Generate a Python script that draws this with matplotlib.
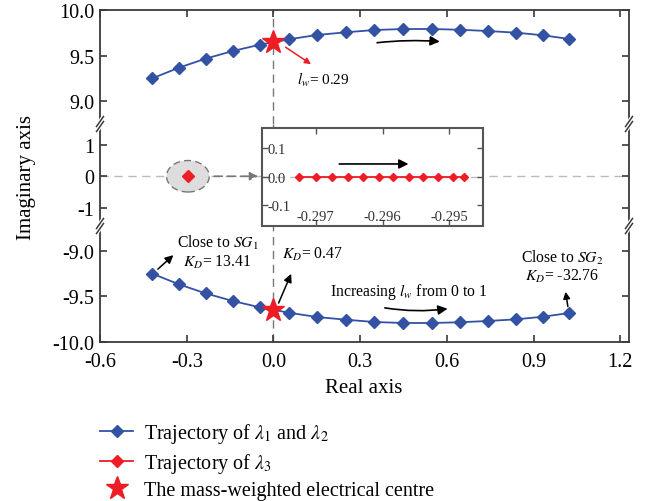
import matplotlib
matplotlib.use("Agg")
import matplotlib.pyplot as plt
import numpy as np
from matplotlib.lines import Line2D
from matplotlib.patches import Ellipse

# ---- data ----
real_lam12 = [-0.419, -0.327, -0.235, -0.141, -0.047, 0.054, 0.149, 0.251,
              0.348, 0.448, 0.549, 0.646, 0.742, 0.839, 0.933, 1.024]
imag_lam12 = [9.249, 9.366, 9.465, 9.549, 9.619, 9.678, 9.725, 9.755,
              9.780, 9.791, 9.791, 9.783, 9.769, 9.751, 9.722, 9.681]
real_lam3 = [-0.29725, -0.29700, -0.29676, -0.29652, -0.29629, -0.29606,
             -0.29584, -0.29561, -0.29539, -0.29517, -0.29494, -0.29478]
imag_lam3 = [0.0] * len(real_lam3)
centre = (0.0, 9.652)
x_ticks = [-0.6, -0.3, 0.0, 0.3, 0.6, 0.9, 1.2]
inset_xticks = [-0.297, -0.296, -0.295]
inset_yticks = [-0.1, 0.0, 0.1]

BLUE = "#3452a4"
RED = "#ee1c25"
SPINE = "#3a3a3a"
ANN = 11.3  # annotation font size

plt.rcParams["font.family"] = ["Liberation Serif", "DejaVu Serif"]
plt.rcParams["mathtext.fontset"] = "stix"

W, H = 654, 502
fig = plt.figure(figsize=(W / 100, H / 100), dpi=100)


def fx(px):
    return px / W


def fy(py):
    return 1 - py / H


L, R = 100, 629
y_top, y_b1, y_b2, y_bot = 11, 125, 227, 343
ax_top = fig.add_axes([fx(L), fy(y_b1), fx(R - L), (y_b1 - y_top) / H])
ax_mid = fig.add_axes([fx(L), fy(y_b2), fx(R - L), (y_b2 - y_b1) / H])
ax_bot = fig.add_axes([fx(L), fy(y_bot), fx(R - L), (y_bot - y_b2) / H])

xlim = (-0.6, 1.23)
for ax in (ax_top, ax_mid, ax_bot):
    ax.set_xlim(*xlim)
    ax.set_xticks(x_ticks)
    for s in ax.spines.values():
        s.set_color(SPINE)
        s.set_linewidth(1.3)
    ax.tick_params(direction="in", length=5, width=1.2, color=SPINE,
                   labelsize=14.5, top=True, right=True, pad=4)
    ax.axvline(0, color="#777777", ls=(0, (6, 4)), lw=1.0, zorder=1)

ax_top.set_ylim(10 - 114 / 91, 10.0)
ax_bot.set_ylim(-10.0, -10 + 116 / 91)
ax_mid.set_ylim(-1.58, 1.66)

ax_top.spines["bottom"].set_visible(False)
ax_mid.spines["top"].set_visible(False)
ax_mid.spines["bottom"].set_visible(False)
ax_bot.spines["top"].set_visible(False)
ax_top.tick_params(bottom=False, labelbottom=False)
ax_mid.tick_params(bottom=False, top=False, labelbottom=False)
ax_bot.tick_params(top=False)
ax_bot.tick_params(axis="x", pad=7)

ax_top.set_yticks([9.0, 9.5, 10.0])
ax_top.set_yticklabels(["9.0", "9.5", "10.0"])
ax_mid.set_yticks([-1, 0, 1])
ax_mid.set_yticklabels(["-1", "0", "1"])
ax_bot.set_yticks([-10.0, -9.5, -9.0])
ax_bot.set_yticklabels(["-10.0", "-9.5", "-9.0"])
ax_bot.set_xticklabels([f"{v:.1f}" for v in x_ticks])

# trajectories of lambda 1, 2
ax_top.plot(real_lam12, imag_lam12, color=BLUE, lw=1.3, marker="D", ms=6,
            zorder=3)
ax_bot.plot(real_lam12, [-v for v in imag_lam12], color=BLUE, lw=1.3,
            marker="D", ms=6, zorder=3)
ax_top.plot(*centre, marker="*", color=RED, ms=17, ls="none", zorder=4)
ax_bot.plot(centre[0], -centre[1], marker="*", color=RED, ms=17, ls="none",
            zorder=4)

# middle panel
ax_mid.axhline(0, color="#bbbbbb", ls=(0, (6, 4)), lw=1.0, zorder=1)
ax_mid.add_patch(Ellipse((np.mean(real_lam3), 0), 0.148, 1.0,
                         facecolor="#dddddd", edgecolor="#777777",
                         ls=(0, (5, 3)), lw=1.0, zorder=2))
ax_mid.plot(np.mean(real_lam3), 0, marker="D", color=RED, ms=6, zorder=3)
ax_mid.annotate("", xy=(-0.0435, 0), xytext=(-0.215, 0),
                arrowprops=dict(arrowstyle="-|>", color="#777777", lw=1.2,
                                ls=(0, (5, 3)), mutation_scale=12))

# annotations on the top panel
ax_top.annotate("", xy=(0.138, 9.388), xytext=(0.034, 9.608),
                arrowprops=dict(arrowstyle="-|>", color=RED, lw=1.1,
                                mutation_scale=9))
ax_top.text(0.082, 9.242, "$l_w$= 0.29", fontsize=11, va="center",
            ha="left")
ax_top.annotate("", xy=(0.585, 9.651), xytext=(0.349, 9.637),
                arrowprops=dict(arrowstyle="-|>", color="black", lw=1.2,
                                mutation_scale=14,
                                connectionstyle="arc3,rad=-0.05"))

# annotations on the bottom panel
ax_bot.annotate("", xy=(-0.339, -9.025), xytext=(-0.407, -9.22),
                arrowprops=dict(arrowstyle="-|>", color="black", lw=1.1,
                                mutation_scale=12))
ax_bot.text(-0.194, -9.007, "Close to $SG_1$\n$K_D$= 13.41", fontsize=ANN,
            ha="center", va="center", linespacing=1.1)
ax_bot.annotate("", xy=(0.065, -9.223), xytext=(0.014, -9.6),
                arrowprops=dict(arrowstyle="-|>", color="black", lw=1.1,
                                mutation_scale=12))
ax_bot.text(0.028, -9.025, "$K_D$= 0.47", fontsize=ANN, ha="left",
            va="center")
ax_bot.annotate("", xy=(1.009, -9.418), xytext=(1.02, -9.64),
                arrowprops=dict(arrowstyle="-|>", color="black", lw=1.1,
                                mutation_scale=10))
ax_bot.text(0.999, -9.161, "Close to $SG_2$\n$K_D$= -32.76", fontsize=ANN,
            ha="center", va="center", linespacing=1.1)
ax_bot.text(0.467, -9.443, "Increasing $l_w$ from 0 to 1", fontsize=ANN,
            ha="center", va="center")
ax_bot.annotate("", xy=(0.612, -9.63), xytext=(0.376, -9.62),
                arrowprops=dict(arrowstyle="-|>", color="black", lw=1.2,
                                mutation_scale=14,
                                connectionstyle="arc3,rad=0.08"))

# break marks on the side spines
for py in (y_b1, y_b2):
    for px in (L, R):
        fig.add_artist(Line2D([fx(px - 1.5), fx(px + 1.5)],
                              [fy(py + 3), fy(py - 3)], color="white",
                              lw=4, zorder=10))
        for d in (-2.5, 2.5):
            fig.add_artist(Line2D([fx(px - 3.5), fx(px + 3.5)],
                                  [fy(py + d + 5), fy(py + d - 5)],
                                  color=SPINE, lw=1.1, zorder=11))

# inset zoom of lambda 3
il, ir, it, ib = 261.7, 482.7, 129.3, 226.7
ax_in = fig.add_axes([fx(il), fy(ib), fx(ir - il), (ib - it) / H])
ax_in.set_xlim(-0.29781, -0.2945)
ax_in.set_ylim(-0.173, 0.171)
ax_in.axhline(0, color="#bbbbbb", ls=(0, (6, 4)), lw=1.0, zorder=1)
ax_in.plot(real_lam3, imag_lam3, color=RED, lw=1.3, marker="D", ms=4.5,
           zorder=3)
ax_in.annotate("", xy=(-0.29557, 0.045), xytext=(-0.29669, 0.045),
               arrowprops=dict(arrowstyle="-|>", color="black", lw=1.2,
                               mutation_scale=14))
ax_in.set_xticks(inset_xticks)
ax_in.set_xticklabels(["-0.297", "-0.296", "-0.295"])
ax_in.set_yticks(inset_yticks)
ax_in.set_yticklabels(["-0.1", "0.0", "0.1"])
for s in ax_in.spines.values():
    s.set_color("#555555")
    s.set_linewidth(1.5)
ax_in.tick_params(direction="in", length=4, width=1.0, color="#555555",
                  top=True, right=True, labelsize=10.5,
                  labelcolor="#333333")
ax_in.tick_params(axis="x", pad=-11)
ax_in.tick_params(axis="y", pad=-4.5)
for lab in ax_in.get_yticklabels():
    lab.set_horizontalalignment("left")

# axis labels
fig.text(fx(26), fy(177), "Imaginary axis", rotation=90, fontsize=15,
         ha="center", va="center")
fig.text(fx(364), fy(389), "Real axis", fontsize=15, ha="center",
         va="center")

# legend
handles = [
    Line2D([], [], color=BLUE, marker="D", ms=6, lw=1.3),
    Line2D([], [], color=RED, marker="D", ms=6, lw=1.3),
    Line2D([], [], color=RED, marker="*", ms=17, ls="none"),
]
labels = [r"Trajectory of $\lambda_1$ and $\lambda_2$",
          r"Trajectory of $\lambda_3$",
          "The mass-weighted electrical centre"]
fig.legend(handles, labels, loc="upper left",
           bbox_to_anchor=(fx(100), fy(422)), frameon=False, fontsize=14.5,
           handlelength=1.65, handletextpad=0.55, labelspacing=0.3,
           borderpad=0, borderaxespad=0)

fig.savefig("out.png", dpi=100)
